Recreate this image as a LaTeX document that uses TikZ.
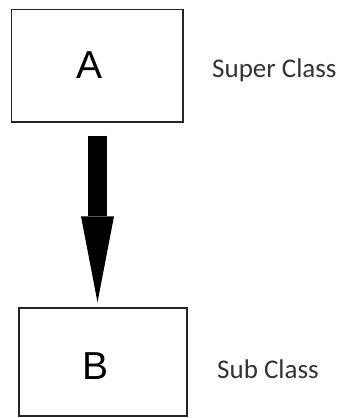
\documentclass[tikz,border=0pt]{standalone}
\usepackage{fontspec}
\setmainfont{Carlito}
\newfontfamily\arialf{Liberation Sans}
\usetikzlibrary{arrows.meta}
\tikzset{
  classbox/.style={draw=black!85, line width=1.4pt, inner sep=0pt, fill=none},
  letter/.style={font=\arialf\fontsize{39}{39}\selectfont, anchor=base, inner sep=0pt},
  rolelabel/.style={font=\fontsize{27}{27}\selectfont, text=black!80, anchor=base west, inner sep=0pt},
  bigarrow/.style={line width=19pt, line cap=butt, -{Triangle[length=86pt,width=33pt,line width=0pt]}}
}
\begin{document}
\begin{tikzpicture}[x=1pt,y=-1pt]
\useasboundingbox (0,0) rectangle (346,418);
\node[classbox, minimum width=171.5pt, minimum height=112.5pt] (A) at (97.25,65.75) {};
\node[classbox, minimum width=168pt, minimum height=108pt] (B) at (103,362) {};
\node[letter] (lA) at (89.5,78) {A};
\node[letter] (lB) at (95.5,379) {B};
\node[rolelabel] (sup) at (212,77) {Super Class};
\node[rolelabel] (sub) at (217,378) {Sub Class};
\coordinate (Bt) at ([xshift=0.25pt]A.south |- B.north);
\draw[bigarrow, shorten <=13pt, shorten >=5pt] ([xshift=0.25pt]A.south) -- (Bt);
\end{tikzpicture}
\end{document}
